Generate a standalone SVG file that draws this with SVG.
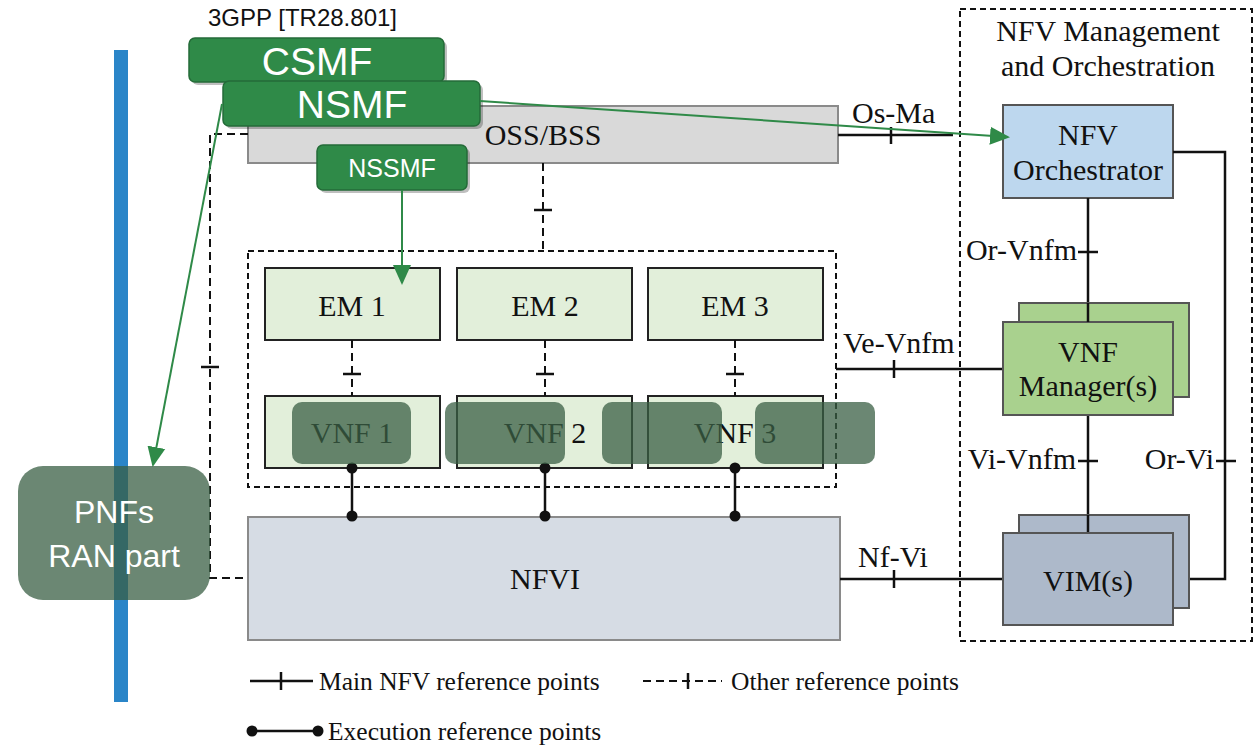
<svg xmlns="http://www.w3.org/2000/svg" width="1260" height="745" viewBox="0 0 1260 745">
<defs>
<style>
.s{font-family:"Liberation Serif","Times New Roman",serif;fill:#111;font-size:30px}
.lg{font-size:25.5px}
.c{text-anchor:middle}
.e{text-anchor:end}
.box{stroke:#222;stroke-width:2}
.gbox{fill:#2f8a48;stroke:#246b38;stroke-width:1.5}
.gt{font-family:"Liberation Sans",Arial,sans-serif;fill:#fff;text-anchor:middle}
.ln{stroke:#111;stroke-width:2.5;fill:none}
.dl{stroke:#111;stroke-width:2;fill:none;stroke-dasharray:8 5}
.ga{stroke:#2f8a48;stroke-width:2;fill:none}
.ov{fill:#395f44;fill-opacity:0.75}
.sh{fill:#000;opacity:0.25}
</style>
<marker id="ahb" markerWidth="20" markerHeight="20" refX="18" refY="10" orient="auto" markerUnits="userSpaceOnUse" viewBox="0 0 20 20">
<path d="M0,1 L20,10 L0,19 Z" fill="#2f8a48"/>
</marker>
</defs>
<rect width="1260" height="745" fill="#fff"/>

<rect id="bluebar" x="114" y="50" width="14" height="652" fill="#2a85c8"/>

<g id="mano-frame">
<rect x="960" y="9" width="292" height="632" fill="none" stroke="#111" stroke-width="2" stroke-dasharray="6 4"/>
<text class="s c" x="1108" y="41">NFV Management</text>
<text class="s c" x="1108" y="76">and Orchestration</text>
</g>

<g id="oss">
<rect x="248" y="106" width="590" height="57" fill="#d9d9d9" stroke="#8a8a8a" stroke-width="2"/>
<text class="s c" x="543" y="145">OSS/BSS</text>
</g>

<g id="vnf-frame">
<rect x="248" y="251" width="588" height="236" fill="none" stroke="#111" stroke-width="2" stroke-dasharray="6 4"/>
</g>

<g id="em1"><rect class="box" x="265" y="268" width="175" height="72" fill="#e2efda"/><text class="s c" x="352" y="316">EM 1</text></g>
<g id="em2"><rect class="box" x="457" y="268" width="175" height="72" fill="#e2efda"/><text class="s c" x="545" y="316">EM 2</text></g>
<g id="em3"><rect class="box" x="648" y="268" width="175" height="72" fill="#e2efda"/><text class="s c" x="735" y="316">EM 3</text></g>
<g id="vnf1"><rect class="box" x="265" y="396" width="175" height="72" fill="#e2efda"/><text class="s c" x="352" y="443">VNF 1</text></g>
<g id="vnf2"><rect class="box" x="457" y="396" width="175" height="72" fill="#e2efda"/><text class="s c" x="545" y="443">VNF 2</text></g>
<g id="vnf3"><rect class="box" x="648" y="396" width="175" height="72" fill="#e2efda"/><text class="s c" x="735" y="443">VNF 3</text></g>

<g id="nfvi">
<rect x="248" y="517" width="592" height="123" fill="#d6dce4" stroke="#8a8a8a" stroke-width="2"/>
<text class="s c" x="545" y="589">NFVI</text>
</g>

<g id="orchestrator">
<rect x="1003" y="105" width="170" height="93" fill="#bdd7ee" stroke="#555" stroke-width="2"/>
<text class="s c" x="1088" y="145">NFV</text>
<text class="s c" x="1088" y="180">Orchestrator</text>
</g>

<g id="connectors">
<!-- Os-Ma -->
<line class="ln" x1="838" y1="135" x2="953" y2="135"/>
<line class="ln" x1="891" y1="127" x2="891" y2="144"/>
<text class="s" x="852" y="123">Os-Ma</text>
<!-- Or-Vnfm -->
<line class="ln" x1="1088" y1="198" x2="1088" y2="322"/>
<line class="ln" x1="1078" y1="252" x2="1098" y2="252"/>
<text class="s e" x="1077" y="260">Or-Vnfm</text>
<!-- Or-Vi -->
<polyline class="ln" points="1173,152 1225,152 1225,579 1173,579"/>
<line class="ln" x1="1216" y1="461" x2="1236" y2="461"/>
<text class="s e" x="1214" y="469">Or-Vi</text>
<!-- Vi-Vnfm -->
<line class="ln" x1="1088" y1="415" x2="1088" y2="533"/>
<line class="ln" x1="1078" y1="461" x2="1098" y2="461"/>
<text class="s e" x="1076" y="469">Vi-Vnfm</text>
<!-- Ve-Vnfm -->
<line class="ln" x1="836" y1="369" x2="1003" y2="369"/>
<line class="ln" x1="894" y1="360" x2="894" y2="378"/>
<text class="s" x="843" y="353">Ve-Vnfm</text>
<!-- Nf-Vi -->
<line class="ln" x1="840" y1="579" x2="1003" y2="579"/>
<line class="ln" x1="894" y1="570" x2="894" y2="588"/>
<text class="s" x="858" y="567">Nf-Vi</text>
<!-- OSS to frame dashed -->
<line class="dl" x1="543" y1="163" x2="543" y2="251"/>
<line class="ln" x1="534" y1="210" x2="552" y2="210" stroke-width="2"/>
<!-- EM-VNF dashed -->
<line class="dl" x1="352" y1="340" x2="352" y2="396"/>
<line class="ln" x1="343" y1="374" x2="361" y2="374" stroke-width="2"/>
<line class="dl" x1="545" y1="340" x2="545" y2="396"/>
<line class="ln" x1="536" y1="374" x2="554" y2="374" stroke-width="2"/>
<line class="dl" x1="735" y1="340" x2="735" y2="396"/>
<line class="ln" x1="726" y1="374" x2="744" y2="374" stroke-width="2"/>
<!-- OSS left dashed to NFVI -->
<polyline class="dl" points="248,134 210,134 210,578 248,578"/>
<line class="ln" x1="201" y1="367" x2="219" y2="367" stroke-width="2"/>
<!-- Execution -->
<line class="ln" x1="352" y1="468" x2="352" y2="516"/>
<circle cx="352" cy="468" r="5.5" fill="#111"/><circle cx="352" cy="516" r="5.5" fill="#111"/>
<line class="ln" x1="545" y1="468" x2="545" y2="516"/>
<circle cx="545" cy="468" r="5.5" fill="#111"/><circle cx="545" cy="516" r="5.5" fill="#111"/>
<line class="ln" x1="735" y1="468" x2="735" y2="516"/>
<circle cx="735" cy="468" r="5.5" fill="#111"/><circle cx="735" cy="516" r="5.5" fill="#111"/>
</g>

<g id="vnfm">
<rect x="1019" y="303" width="170" height="94" fill="#a9d18e" stroke="#555" stroke-width="2"/>
<rect x="1003" y="322" width="170" height="93" fill="#a9d18e" stroke="#555" stroke-width="2"/>
<line class="ln" x1="1088" y1="303" x2="1088" y2="322"/>
<text class="s c" x="1088" y="362">VNF</text>
<text class="s c" x="1088" y="396">Manager(s)</text>
</g>

<g id="vim">
<rect x="1019" y="515" width="170" height="93" fill="#adb9ca" stroke="#555" stroke-width="2"/>
<line class="ln" x1="1088" y1="515" x2="1088" y2="533"/>
<rect x="1003" y="533" width="170" height="92" fill="#adb9ca" stroke="#555" stroke-width="2"/>
<text class="s c" x="1088" y="591">VIM(s)</text>
</g>

<g id="legend">
<line class="ln" x1="250" y1="681" x2="313" y2="681"/>
<line class="ln" x1="281" y1="672" x2="281" y2="690"/>
<text class="s lg" x="319" y="690">Main NFV reference points</text>
<line class="dl" x1="643" y1="681" x2="722" y2="681" stroke-dasharray="6 5"/>
<line class="ln" x1="688" y1="673" x2="688" y2="689" stroke-width="2"/>
<text class="s lg" x="731" y="690">Other reference points</text>
<line class="ln" x1="252" y1="731" x2="318" y2="731"/>
<circle cx="252" cy="731" r="5.5" fill="#111"/><circle cx="318" cy="731" r="5.5" fill="#111"/>
<text class="s lg" x="328" y="740">Execution reference points</text>
</g>

<g id="label-3gpp">
<text x="208" y="26" font-family="'Liberation Sans',Arial,sans-serif" font-size="24" fill="#111">3GPP [TR28.801]</text>
</g>

<g id="csmf">
<rect class="sh" x="192" y="41" width="255" height="44" rx="6"/>
<rect class="gbox" x="189" y="38" width="255" height="44" rx="6"/>
<text class="gt" x="317" y="75" font-size="39">CSMF</text>
</g>

<g id="nsmf">
<rect class="sh" x="226" y="84" width="257" height="45" rx="6"/>
<rect class="gbox" x="223" y="81" width="257" height="45" rx="6"/>
<text class="gt" x="352" y="118" font-size="39">NSMF</text>
</g>

<g id="nssmf">
<rect class="sh" x="320" y="148" width="150" height="45" rx="6"/>
<rect class="gbox" x="317" y="145" width="150" height="45" rx="6"/>
<text class="gt" x="392" y="177" font-size="25">NSSMF</text>
</g>

<g id="green-arrows">
<line class="ga" x1="480" y1="101" x2="1008" y2="137" marker-end="url(#ahb)"/>
<line class="ga" x1="222" y1="104" x2="153" y2="465" marker-end="url(#ahb)"/>
<line class="ga" x1="402" y1="190" x2="402" y2="283" marker-end="url(#ahb)"/>
</g>

<g id="overlays">
<rect class="ov" x="292" y="402" width="119" height="62" rx="10"/>
<rect class="ov" x="445" y="402" width="120" height="62" rx="10"/>
<rect class="ov" x="602" y="402" width="120" height="62" rx="10"/>
<rect class="ov" x="755" y="402" width="120" height="62" rx="10"/>
</g>

<g id="pnf">
<rect class="ov" x="18" y="466" width="192" height="134" rx="25"/>
<text class="gt" x="114" y="523" font-size="32">PNFs</text>
<text class="gt" x="114" y="567" font-size="32">RAN part</text>
</g>
</svg>
